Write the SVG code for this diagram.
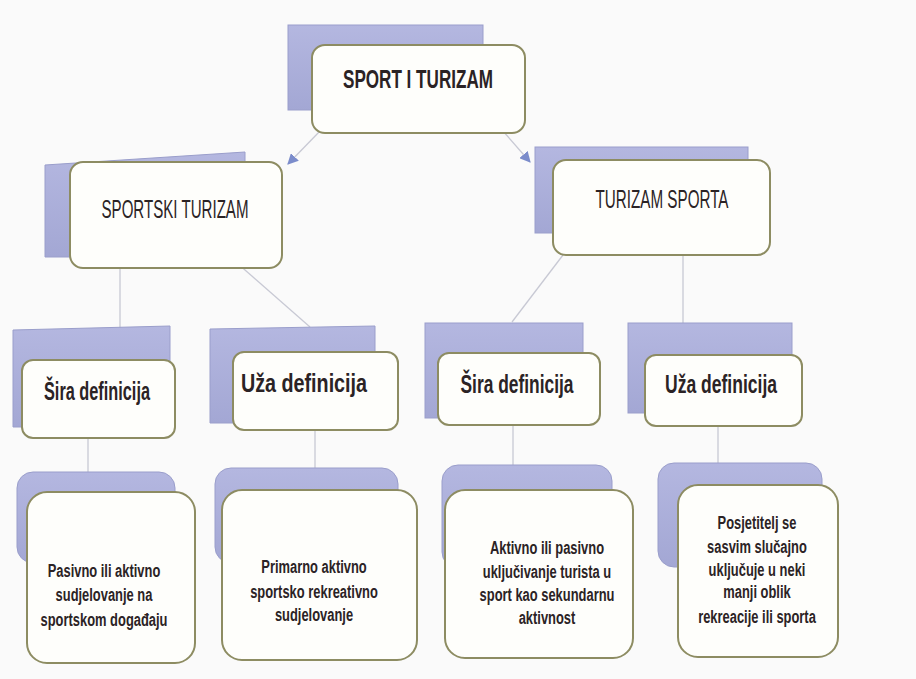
<svg xmlns="http://www.w3.org/2000/svg" width="916" height="679" viewBox="0 0 916 679">
<defs>
<linearGradient id="bk" x1="0" y1="0" x2="0" y2="1">
<stop offset="0" stop-color="#b4b7e0"/>
<stop offset="1" stop-color="#a3a7d4"/>
</linearGradient>
<marker id="arr" viewBox="0 0 10 10" refX="9" refY="5" markerWidth="11" markerHeight="11" markerUnits="userSpaceOnUse" orient="auto">
<path d="M0,0 L10,5 L0,10 z" fill="#7b8ccb"/>
</marker>
<style>
.back{fill:url(#bk);stroke:#9a9ecb;stroke-width:1}
.front{fill:#fefefb;stroke:#8d8c62;stroke-width:2}
.ln{stroke:#c8c9d4;stroke-width:1.3;fill:none}
text{font-family:"Liberation Sans Narrow","Liberation Sans",Arial,sans-serif;fill:#2b2325;text-anchor:middle}
.t1{font-size:26px;font-weight:bold}
.t2{font-size:26px}
.t3{font-size:26px;font-weight:bold}
.t4{font-size:19px;font-weight:bold}
</style>
</defs>
<rect width="916" height="679" fill="#fafafa"/>
<g id="connectors">
<line class="ln" x1="320" y1="131" x2="288" y2="164" marker-end="url(#arr)"/>
<line class="ln" x1="503" y1="131" x2="530" y2="162" marker-end="url(#arr)"/>
<line class="ln" x1="120" y1="268" x2="120" y2="328"/>
<line class="ln" x1="237" y1="263" x2="310" y2="327"/>
<line class="ln" x1="683" y1="255" x2="683" y2="323"/>
<line class="ln" x1="563" y1="255" x2="512" y2="322"/>
<line class="ln" x1="88" y1="438" x2="88" y2="472"/>
<line class="ln" x1="315" y1="430" x2="315" y2="468"/>
<line class="ln" x1="513" y1="425" x2="513" y2="465"/>
<line class="ln" x1="718" y1="426" x2="718" y2="463"/>
</g>
<g id="sport-i-turizam">
<rect class="back" x="288" y="25" width="195" height="85"/>
<rect class="front" x="312" y="45" width="213" height="88" rx="13"/>
<text class="t1" x="418" y="88" textLength="150" lengthAdjust="spacingAndGlyphs">SPORT I TURIZAM</text>
</g>
<g id="sportski-turizam">
<path class="back" d="M45,165 L245,152 L245,257 L45,257 z"/>
<rect class="front" x="70" y="162" width="212" height="106" rx="13"/>
<text class="t2" x="175" y="218" textLength="147" lengthAdjust="spacingAndGlyphs">SPORTSKI TURIZAM</text>
</g>
<g id="turizam-sporta">
<rect class="back" x="535" y="147" width="213" height="86"/>
<rect class="front" x="553" y="160" width="217" height="95" rx="13"/>
<text class="t2" x="662" y="208" textLength="133" lengthAdjust="spacingAndGlyphs">TURIZAM SPORTA</text>
</g>
<g id="sira-definicija-1">
<path class="back" d="M13,330 L170,326 L170,427 L13,427 z"/>
<rect class="front" x="22" y="360" width="153" height="78" rx="11"/>
<text class="t3" x="97" y="400" textLength="106" lengthAdjust="spacingAndGlyphs">Šira definicija</text>
</g>
<g id="uza-definicija-1">
<path class="back" d="M210,329 L375,326 L375,423 L210,423 z"/>
<rect class="front" x="233" y="352" width="165" height="78" rx="11"/>
<text class="t3" x="304" y="392" textLength="126" lengthAdjust="spacingAndGlyphs">Uža definicija</text>
</g>
<g id="sira-definicija-2">
<rect class="back" x="425" y="323" width="158" height="95"/>
<rect class="front" x="438" y="353" width="162" height="72" rx="11"/>
<text class="t3" x="517" y="393" textLength="113" lengthAdjust="spacingAndGlyphs">Šira definicija</text>
</g>
<g id="uza-definicija-2">
<rect class="back" x="628" y="323" width="164" height="90"/>
<rect class="front" x="645" y="355" width="157" height="71" rx="11"/>
<text class="t3" x="721" y="393" textLength="112" lengthAdjust="spacingAndGlyphs">Uža definicija</text>
</g>
<g id="opis-1">
<rect class="back" x="17" y="472" width="158" height="91" rx="16"/>
<rect class="front" x="27" y="492" width="168" height="171" rx="20"/>
<text class="t4" transform="translate(104,0) scale(0.68,1)"><tspan x="0" y="577">Pasivno ili aktivno</tspan><tspan x="0" y="601">sudjelovanje  na</tspan><tspan x="0" y="626">sportskom događaju</tspan></text>
</g>
<g id="opis-2">
<rect class="back" x="215" y="468" width="183" height="95" rx="16"/>
<rect class="front" x="222" y="490" width="195" height="170" rx="20"/>
<text class="t4" transform="translate(314,0) scale(0.68,1)"><tspan x="0" y="573">Primarno aktivno</tspan><tspan x="0" y="598">sportsko rekreativno</tspan><tspan x="0" y="621">sudjelovanje</tspan></text>
</g>
<g id="opis-3">
<rect class="back" x="442" y="465" width="170" height="103" rx="16"/>
<rect class="front" x="445" y="490" width="188" height="168" rx="20"/>
<text class="t4" transform="translate(547,0) scale(0.68,1)"><tspan x="0" y="554">Aktivno ili pasivno</tspan><tspan x="0" y="578">uključivanje  turista u</tspan><tspan x="0" y="601">sport kao sekundarnu</tspan><tspan x="0" y="624">aktivnost</tspan></text>
</g>
<g id="opis-4">
<rect class="back" x="658" y="463" width="164" height="104" rx="16"/>
<rect class="front" x="678" y="485" width="160" height="172" rx="20"/>
<text class="t4" transform="translate(757,0) scale(0.68,1)"><tspan x="0" y="529">Posjetitelj se</tspan><tspan x="0" y="553">sasvim slučajno</tspan><tspan x="0" y="576">uključuje u neki</tspan><tspan x="0" y="598">manji oblik</tspan><tspan x="0" y="623">rekreacije ili sporta</tspan></text>
</g>
</svg>
